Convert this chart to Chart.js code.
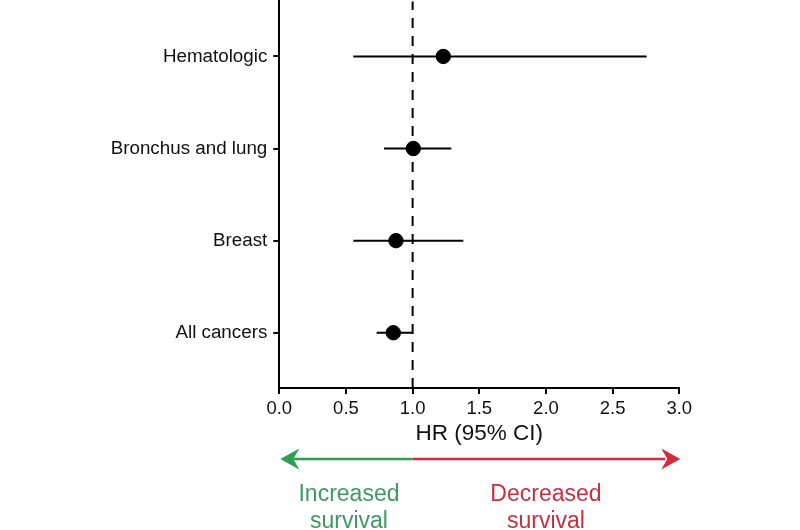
<!DOCTYPE html>
<html>
<head>
<meta charset="utf-8">
<script src="https://cdn.jsdelivr.net/npm/chart.js@4"></script>
<style>
  html, body { margin: 0; padding: 0; background: #fff; }
  #wrap { width: 800px; height: 530px; overflow: hidden; position: relative; }
  #c { position: absolute; left: 0; top: -7px; }
</style>
</head>
<body>
<div id="wrap"><canvas id="c" width="800" height="537"></canvas></div>
<script>
// Data (bottom to top)
const categories = ['All cancers', 'Breast', 'Bronchus and lung', 'Hematologic'];
const hr = [0.855, 0.875, 1.005, 1.23];
const ciLow = [0.73, 0.555, 0.785, 0.555];
const ciHigh = [1.0, 1.38, 1.29, 2.755];
const xTicks = [0, 0.5, 1.0, 1.5, 2.0, 2.5, 3.0];
const refValue = 1.0;
const axisTitle = 'HR (95% CI)';
const leftLabel = ['Increased', 'survival'];
const rightLabel = ['Decreased', 'survival'];

const FONT = '"Liberation Sans", Arial, Helvetica, sans-serif';

const ciDatasets = categories.map((c, i) => ({
  type: 'scatter',
  showLine: true,
  data: [{x: ciLow[i], y: i + 1}, {x: ciHigh[i], y: i + 1}],
  borderColor: '#000',
  borderWidth: 2,
  pointRadius: 0,
  order: 2
}));

const refLine = {
  type: 'scatter',
  showLine: true,
  data: [{x: refValue, y: 0.4}, {x: refValue, y: 4.6}],
  borderColor: '#000',
  borderWidth: 2,
  borderDash: [10, 8],
  pointRadius: 0,
  order: 3
};

const points = {
  type: 'scatter',
  data: hr.map((v, i) => ({x: v, y: i + 1})),
  backgroundColor: '#000',
  borderColor: '#000',
  pointRadius: 7.2,
  pointHoverRadius: 7.2,
  order: 1
};

function drawArrowHead(ctx, tipX, y, dir, color) {
  const len = 19, half = 10.5, notch = 13;
  ctx.beginPath();
  ctx.moveTo(tipX, y);
  ctx.lineTo(tipX - dir * len, y - half);
  ctx.lineTo(tipX - dir * notch, y);
  ctx.lineTo(tipX - dir * len, y + half);
  ctx.closePath();
  ctx.fillStyle = color;
  ctx.fill();
}

const arrowPlugin = {
  id: 'arrows',
  afterDraw(chart) {
    const ctx = chart.ctx;
    const xs = chart.scales.x;
    const base = chart.chartArea.bottom;
    const y = base + 71;
    const x0 = xs.getPixelForValue(xs.min);
    const x1 = xs.getPixelForValue(refValue);
    const x3 = xs.getPixelForValue(xs.max);
    const green = '#2f9e55', red = '#d42a3a';
    ctx.save();
    ctx.lineWidth = 2.5;
    ctx.strokeStyle = green;
    ctx.beginPath(); ctx.moveTo(x0 + 14, y); ctx.lineTo(x1, y); ctx.stroke();
    ctx.strokeStyle = red;
    ctx.beginPath(); ctx.moveTo(x1, y); ctx.lineTo(x3 - 14, y); ctx.stroke();
    drawArrowHead(ctx, x0 + 1, y, -1, green);
    drawArrowHead(ctx, x3 + 1, y, 1, red);
    ctx.font = '23px ' + FONT;
    ctx.textAlign = 'center';
    ctx.textBaseline = 'alphabetic';
    const cl = (x0 + x1) / 2 + 3;
    const cr = (x1 + x3) / 2;
    ctx.fillStyle = '#3d9a62';
    ctx.fillText(leftLabel[0], cl, base + 113);
    ctx.fillText(leftLabel[1], cl, base + 140);
    ctx.fillStyle = '#c7303f';
    ctx.fillText(rightLabel[0], cr, base + 113);
    ctx.fillText(rightLabel[1], cr, base + 140);
    ctx.restore();
  }
};

new Chart(document.getElementById('c'), {
  data: { datasets: [points, ...ciDatasets, refLine] },
  options: {
    responsive: false,
    animation: false,
    events: [],
    layout: { padding: { left: 0, right: 120.7, top: 0, bottom: 83 } },
    plugins: { legend: { display: false }, tooltip: { enabled: false } },
    scales: {
      x: {
        type: 'linear',
        min: 0, max: 3,
        afterBuildTicks: (s) => { s.ticks = xTicks.map(v => ({value: v})); },
        afterFit: (s) => { s.height = 59; s.paddingLeft = 0; s.paddingRight = 0; },
        border: { display: true, color: '#000', width: 2 },
        grid: { drawOnChartArea: false, drawTicks: true, tickLength: 6, color: '#000', lineWidth: 2 },
        ticks: {
          color: '#111',
          font: { family: FONT, size: 18.5 },
          padding: 4,
          maxRotation: 0,
          callback: (v) => Number(v).toFixed(1)
        },
        title: { display: true, text: axisTitle, color: '#111', font: { family: FONT, size: 22.5 }, padding: 0 }
      },
      y: {
        type: 'linear',
        min: 0.4, max: 4.6,
        afterBuildTicks: (s) => { s.ticks = categories.map((c, i) => ({value: i + 1})); },
        afterFit: (s) => { s.width = 279.3; s.paddingTop = 0; s.paddingBottom = 0; },
        border: { display: true, color: '#000', width: 2 },
        grid: { drawOnChartArea: false, drawTicks: true, tickLength: 6, color: '#000', lineWidth: 2 },
        ticks: {
          color: '#111',
          font: { family: FONT, size: 18.8 },
          padding: 6,
          callback: (v) => categories[Math.round(v) - 1] || ''
        }
      }
    }
  },
  plugins: [arrowPlugin]
});
</script>
</body>
</html>
